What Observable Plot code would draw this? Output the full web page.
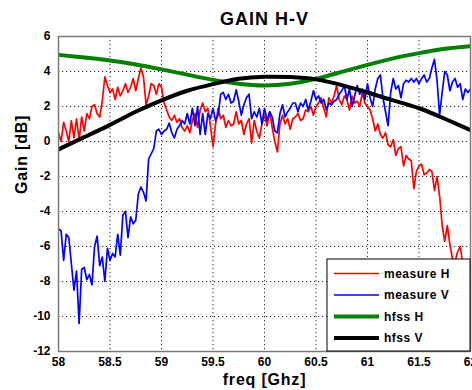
<!DOCTYPE html>
<html><head><meta charset="utf-8">
<script src="https://cdn.jsdelivr.net/npm/d3@7"></script>
<script src="https://cdn.jsdelivr.net/npm/@observablehq/plot@0.6"></script>
<style>
body{margin:0;background:#fff;}
#chart{position:relative;width:472px;height:390px;}
</style></head><body><div id="chart"></div>
<script>
// measured gain, evenly sampled from 58 to 62 GHz
const measureH = [
0.5,0.0,1.1,0.6,0.0,1.2,0.2,1.3,0.1,1.4,0.6,1.6,1.3,2.0,2.1,1.6,1.4,2.3,3.7,3.2,
2.8,3.0,2.4,3.1,2.6,2.9,3.3,2.8,3.1,3.6,2.9,3.6,4.2,3.7,2.1,2.6,3.3,3.2,2.7,3.3,
3.1,2.2,1.8,1.4,1.2,1.5,1.1,1.3,0.8,0.6,0.9,0.5,1.2,1.6,0.8,1.8,2.2,1.7,1.9,0.9,
-0.3,1.0,1.9,1.3,1.5,0.8,1.2,0.9,1.0,1.7,1.0,1.2,0.4,1.0,1.3,-0.1,1.2,0.6,0.2,1.0,
1.5,0.9,1.7,0.8,0.0,-0.6,1.0,1.5,1.0,1.3,0.7,1.3,1.4,1.6,1.2,1.3,1.8,1.7,2.0,1.5,
2.0,2.2,2.5,1.9,1.4,2.5,2.2,2.6,3.2,2.4,2.1,2.6,2.4,1.8,2.6,2.2,2.3,2.0,2.8,2.2,
2.0,1.8,1.3,0.6,1.0,0.4,0.2,0.5,-0.2,-0.3,0.1,-0.8,-0.4,-0.3,-1.4,-0.8,-1.0,-1.1,-2.7,-1.7,
-1.4,-1.3,-1.9,-1.8,-1.6,-1.7,-2.8,-2.0,-3.1,-4.8,-5.7,-4.8,-5.9,-6.7,-6.9,-6.3,-6.0,-7.0,-7.8,-8.3,
-8.6];
const measureV = [
-5.0,-5.1,-6.8,-5.3,-5.5,-7.0,-8.5,-7.4,-10.4,-7.3,-7.2,-7.9,-7.6,-8.2,-6.0,-5.4,-7.1,-6.6,-8.0,-6.1,
-6.8,-6.4,-6.6,-5.3,-6.5,-4.2,-4.0,-5.5,-4.3,-4.7,-4.5,-3.0,-2.6,-2.9,-3.4,-1.0,-0.7,-0.4,0.6,0.7,
0.4,0.6,0.7,1.05,0.5,0.2,0.7,0.9,1.2,1.0,1.6,1.0,1.9,0.9,2.0,0.4,1.6,0.4,1.6,1.3,
1.9,1.2,1.5,2.7,2.8,2.4,2.7,2.2,2.3,2.95,2.3,1.5,2.1,2.5,2.7,1.3,1.7,1.4,1.9,1.0,
1.9,1.2,1.7,1.4,0.6,0.5,1.6,2.1,1.4,1.7,1.9,2.2,2.2,1.7,2.2,2.0,2.4,1.8,2.3,2.9,
2.4,2.6,2.2,2.4,1.8,2.2,2.1,2.3,2.4,2.7,2.9,3.2,2.4,3.0,2.0,2.6,3.2,2.7,3.0,2.4,
3.3,2.5,2.0,3.0,3.6,3.8,2.5,1.7,0.9,2.8,3.6,3.0,3.2,2.5,3.3,3.5,3.4,3.6,3.4,3.6,
3.3,3.6,3.8,3.4,3.6,4.2,4.7,3.5,1.5,2.8,4.0,3.8,2.9,3.4,3.6,3.1,3.3,2.4,3.0,2.8,
3.0];
// simulated gain
const hfssFreq = [58,58.25,58.5,58.75,59,59.25,59.5,59.75,60,60.25,60.5,60.75,61,61.25,61.5,61.75,62];
const hfssH = [4.95,4.8,4.63,4.4,4.12,3.82,3.52,3.3,3.2,3.3,3.58,3.98,4.38,4.75,5.05,5.3,5.45];
const hfssV = [-0.45,0.25,0.95,1.7,2.35,2.9,3.28,3.58,3.7,3.68,3.55,3.22,2.8,2.35,1.9,1.3,0.65];

const xTicks = [58,58.5,59,59.5,60,60.5,61,61.5,62];
const yTicks = [-12,-10,-8,-6,-4,-2,0,2,4,6];
const seriesNames = ["measure H","measure V","hfss H","hfss V"];
const seriesColors = ["#ff0000","#0000ff","#008000","#000000"];
const seriesWidths = [1.7,1.7,4,4];
const titleText = "GAIN H-V";
const xLabel = "freq [Ghz]";
const yLabel = "Gain [dB]";

const nM = measureH.length;
const measFreq = d3.range(nM).map(i => 58 + 4 * i / (nM - 1));
const rows = [];
measFreq.forEach((f, i) => {
  rows.push({f, g: measureH[i], s: seriesNames[0]});
});
measFreq.forEach((f, i) => {
  if (i < measureV.length) rows.push({f, g: measureV[i], s: seriesNames[1]});
});
const simRows = [];
hfssFreq.forEach((f, i) => simRows.push({f, g: hfssH[i], s: seriesNames[2]}));
hfssFreq.forEach((f, i) => simRows.push({f, g: hfssV[i], s: seriesNames[3]}));

const W = 472, H = 390, mL = 58, mR = 2, mT = 36, mB = 39;
const font = "'Liberation Sans', Arial, Helvetica, sans-serif";

const lineFor = (data, k, curve) => Plot.line(data.filter(d => d.s === seriesNames[k]), {
  x: "f", y: "g", stroke: seriesColors[k], strokeWidth: seriesWidths[k], curve, clip: true
});

const chart = Plot.plot({
  width: W, height: H,
  marginLeft: mL, marginRight: mR, marginTop: mT, marginBottom: mB,
  style: {fontFamily: font, fontSize: "12px", fontWeight: "bold", color: "#000", background: "#fff", overflow: "hidden"},
  x: {domain: [58, 62], label: null},
  y: {domain: [-12, 6], label: null},
  marks: [
    Plot.gridX(xTicks, {stroke: "#000", strokeOpacity: 0.85, strokeDasharray: "1.2,2.8", strokeWidth: 1}),
    Plot.gridY(yTicks, {stroke: "#000", strokeOpacity: 0.85, strokeDasharray: "1.2,2.8", strokeWidth: 1}),
    lineFor(rows, 0, "linear"),
    lineFor(rows, 1, "linear"),
    lineFor(simRows, 2, "natural"),
    lineFor(simRows, 3, "natural"),
    Plot.frame({stroke: "#7a7a7a", strokeWidth: 1.5}),
    Plot.axisX(xTicks, {tickSize: 0, tickPadding: 6, tickFormat: d => String(d), label: null, fontWeight: "bold"}),
    Plot.axisY(yTicks, {tickSize: 0, tickPadding: 8, tickFormat: d => String(d), label: null, fontWeight: "bold"}),
    Plot.text([titleText], {frameAnchor: "top", dy: -17, lineAnchor: "middle", fontSize: 18, fontWeight: "bold", fill: "#000", className: "ttl"}),
    Plot.text([xLabel], {frameAnchor: "bottom", dy: 28, lineAnchor: "middle", fontSize: 16, fontWeight: "bold", fill: "#000", className: "xl"}),
    Plot.text([yLabel], {frameAnchor: "left", dx: -37, rotate: -90, lineAnchor: "middle", fontSize: 16, fontWeight: "bold", fill: "#000", className: "yl"})
  ]
});
document.getElementById("chart").appendChild(chart);
d3.select(chart).selectAll(".ttl text").attr("letter-spacing", "1");
d3.select(chart).selectAll(".xl text, .yl text").attr("letter-spacing", "0.8");

// legend box in the lower-right corner of the plot frame
const lgW = 143, lgH = 92;
const lgX = W - mR - lgW, lgY = H - mB - lgH;
const g = d3.select(chart).append("g").attr("font-family", font).attr("font-weight", "bold").attr("font-size", 12).attr("text-anchor", "start");
g.append("rect").attr("x", lgX).attr("y", lgY).attr("width", lgW).attr("height", lgH)
  .attr("fill", "#fff").attr("stroke", "#000").attr("stroke-width", 1);
seriesNames.forEach((name, i) => {
  const cy = lgY + 14.5 + i * 21.5;
  g.append("line").attr("x1", lgX + 7).attr("x2", lgX + 52).attr("y1", cy).attr("y2", cy)
    .attr("stroke", seriesColors[i]).attr("stroke-width", seriesWidths[i]);
  g.append("text").attr("x", lgX + 57).attr("y", cy).attr("dy", "0.35em").attr("fill", "#000")
    .attr("text-anchor", "start").attr("letter-spacing", "0.5").text(name);
});
</script></body></html>
